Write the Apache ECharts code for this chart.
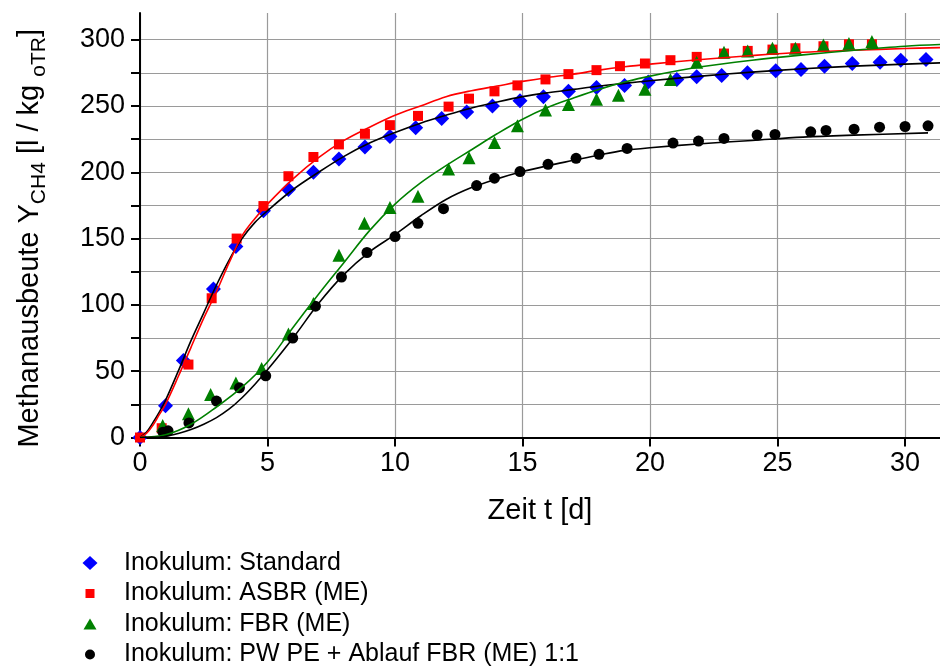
<!DOCTYPE html>
<html>
<head>
<meta charset="utf-8">
<script src="https://cdn.jsdelivr.net/npm/echarts@6/dist/echarts.min.js"></script>
<style>
html,body{margin:0;padding:0;background:#fff;}
#chart{width:940px;height:666px;}
</style>
</head>
<body>
<div id="chart"></div>
<script>
// ---------- measured data ----------
const stdX = [0, 1.0, 1.7, 2.88, 3.76, 4.84, 5.82, 6.8, 7.8, 8.82, 9.8, 10.81, 11.83, 12.81, 13.82, 14.9, 15.82, 16.8, 17.9, 19.0, 19.93, 21.05, 21.83, 22.81, 23.82, 24.93, 25.92, 26.84, 27.93, 29.02, 29.83, 30.82];
const stdY = [0, 24, 58, 112, 144, 171, 187, 200, 210, 219, 227, 233.5, 240.5, 245.5, 250, 254, 257, 261, 264, 265.5, 268, 270, 272, 273, 275, 276.5, 277.5, 280, 282, 283, 284.5, 285];

const asbrX = [0, 0.85, 1.9, 2.81, 3.79, 4.84, 5.82, 6.8, 7.8, 8.82, 9.8, 10.9, 12.1, 12.9, 13.9, 14.8, 15.9, 16.8, 17.9, 18.82, 19.8, 20.8, 21.83, 22.9, 23.83, 24.8, 25.7, 26.8, 27.8, 28.7];
const asbrY = [0, 7, 55, 105, 150, 174.5, 197, 211.5, 221, 229, 235.5, 242.5, 249.5, 255.5, 261, 265.5, 270, 274, 277, 280, 282, 284.5, 287, 289.5, 291.5, 292.5, 293.5, 295, 296.5, 296.5];

const fbrX = [0.89, 1.9, 2.77, 3.76, 4.77, 5.82, 6.8, 7.8, 8.8, 9.8, 10.9, 12.1, 12.9, 13.9, 14.8, 15.9, 16.8, 17.9, 18.76, 19.8, 20.8, 21.83, 22.9, 23.83, 24.8, 25.7, 26.8, 27.8, 28.7];
const fbrY = [9, 18, 32.5, 41, 52, 78, 101, 137.5, 161.5, 173.5, 182, 202.5, 211, 222.5, 235, 247, 251, 255, 258, 262.5, 270, 283, 290.5, 291.5, 293.5, 293.5, 296, 297, 298.5];

const pwX = [0.9, 1.1, 1.92, 3.0, 3.9, 4.93, 5.99, 6.88, 7.9, 8.9, 10.0, 10.9, 11.9, 13.2, 13.9, 14.9, 16.0, 17.1, 18.0, 19.1, 20.9, 21.9, 22.9, 24.2, 24.9, 26.3, 26.9, 28.0, 29.0, 30.0, 30.9];
const pwY = [4, 5, 11, 27.5, 37.5, 46.5, 75, 99, 121, 139.5, 151.5, 161.5, 172.5, 190, 195.5, 200.5, 206, 210.5, 213.5, 218, 222, 223.5, 225.5, 228, 228.5, 230.5, 231.5, 232.5, 234, 234.5, 235];

// fitted curves
const fitStdX = [0, 0.25, 0.5, 0.75, 1, 1.5, 2, 2.5, 3, 3.5, 4, 4.5, 5, 6, 7, 8, 9, 10, 11, 12, 13, 14, 15, 16, 17, 18, 19, 20, 22, 24, 26, 28, 30, 31.4];
const fitStdY = [0, 4, 11, 19, 28, 50, 73, 94, 115, 134, 150, 162, 171, 187, 200, 212, 222, 230, 237, 243, 248.5, 253, 257, 260, 262.5, 265, 267, 269, 272.5, 275.5, 278, 280, 281.5, 282.5];

const fitAsbrX = [0, 0.25, 0.5, 0.75, 1, 1.5, 2, 2.5, 3, 3.5, 4, 4.5, 5, 6, 7, 8, 9, 10, 11, 12, 13, 14, 15, 16, 17, 18, 19, 20, 22, 24, 26, 28, 30, 31.4];
const fitAsbrY = [0, 3, 9, 17, 25, 46, 68, 90, 110, 132, 152, 165, 176, 195, 211, 224, 234, 243, 250, 257, 261.5, 265, 268.5, 271.5, 274, 277, 279.5, 281.5, 285, 288, 290.5, 292, 293.3, 294];

const fitFbrX = [0, 1, 2, 3, 4, 5, 6, 7, 8, 9, 10, 11, 12, 13, 14, 15, 16, 17, 18, 19, 20, 22, 24, 26, 28, 30, 31.4];
const fitFbrY = [0, 2, 10, 23, 38, 57, 83, 108, 132, 156, 176, 192, 205, 217, 229, 240, 249, 256, 262.5, 268, 272.5, 279.5, 284.5, 288.5, 292, 295, 296.3];

const fitPwX = [0, 0.5, 1, 1.5, 2, 2.5, 3, 3.5, 4, 4.5, 5, 6, 7, 8, 9, 10, 11, 12, 13, 14, 15, 16, 17, 18, 19, 20, 22, 24, 26, 28, 30.9];
const fitPwY = [0, 0.1, 0.8, 3, 6, 10, 15, 21.5, 30, 40, 51, 75, 101, 123, 140, 153, 167, 179.5, 188.5, 195, 200.5, 205, 209, 213, 216.5, 218.5, 221.5, 224, 226.5, 228, 229.7];

const legendNames = ['Inokulum: Standard', 'Inokulum: ASBR (ME)', 'Inokulum: FBR (ME)', 'Inokulum: PW PE + Ablauf FBR (ME) 1:1'];
const xTicks = [0, 5, 10, 15, 20, 25, 30];
const yTicks = [0, 25, 50, 75, 100, 125, 150, 175, 200, 225, 250, 275, 300];
const yLabels = [0, 50, 100, 150, 200, 250, 300];

// ---------- chart ----------
const FONT = 'Liberation Sans, Arial, sans-serif';
const zip = (xs, ys) => xs.map((x, i) => [x, ys[i]]);

const chart = echarts.init(document.getElementById('chart'), null, { renderer: 'canvas' });

function scatter(name, xs, ys, symbol, size, color, z) {
  return { type: 'scatter', name, data: zip(xs, ys), symbol, symbolSize: size,
           itemStyle: { color, opacity: 1 }, z, silent: true };
}
function fit(name, xs, ys, color) {
  return { type: 'line', name, data: zip(xs, ys), showSymbol: false, symbol: 'none',
           smooth: 0.35, lineStyle: { color, width: 1.6 }, z: 10, silent: true };
}
// icon centred at x=90, text starting at x=124, row centred at cy
function legendItem(name, icon, cy, w, h) {
  return { data: [{ name, icon }], left: 90 - w / 2, top: cy - 11.5, orient: 'horizontal', padding: 0,
           itemWidth: w, itemHeight: h, selectedMode: false,
           textStyle: { fontFamily: FONT, fontSize: 25, color: '#000', padding: [0, 0, 0, 29 - w / 2] } };
}

chart.setOption({
  animation: false,
  backgroundColor: '#fff',
  grid: { left: 140, right: 0, top: 13, bottom: 228.5, containLabel: false },
  xAxis: {
    type: 'value', min: 0, max: 31.37,
    name: 'Zeit t [d]', nameLocation: 'middle', nameGap: 59,
    nameTextStyle: { fontFamily: FONT, fontSize: 29, color: '#000' },
    axisLine: { show: true, onZero: false, lineStyle: { color: '#000', width: 2 } },
    axisTick: { show: true, inside: false, length: 9, customValues: xTicks, lineStyle: { color: '#000', width: 2 } },
    axisLabel: { customValues: xTicks, margin: 13, fontFamily: FONT, fontSize: 27, color: '#000' },
    splitLine: { show: true, lineStyle: { color: '#9a9a9a', width: 1.2 } }
  },
  yAxis: {
    type: 'value', min: 0, max: 320,
    name: '{m|Methanausbeute Y}{s|CH4}{m| [l / kg }{s|oTR}{e|]}',
    nameLocation: 'middle', nameGap: 90, nameRotate: 90,
    nameTextStyle: {
      fontFamily: FONT, color: '#000',
      rich: {
        m: { fontFamily: FONT, fontSize: 29, lineHeight: 40, color: '#000' },
        e: { fontFamily: FONT, fontSize: 29, lineHeight: 40, color: '#000', padding: [0, 26, 0, 0] },
        s: { fontFamily: FONT, fontSize: 21, lineHeight: 21, verticalAlign: 'bottom', color: '#000' }
      }
    },
    axisLine: { show: true, onZero: false, lineStyle: { color: '#000', width: 2 } },
    axisTick: { show: true, inside: false, length: 9, customValues: yTicks, lineStyle: { color: '#000', width: 2 } },
    axisLabel: { customValues: yLabels, margin: 15, fontFamily: FONT, fontSize: 27, color: '#000' },
    splitLine: { show: true, lineStyle: { color: '#9a9a9a', width: 1.2 } }
  },
  legend: [
    legendItem(legendNames[0], 'diamond', 562, 15, 14),
    legendItem(legendNames[1], 'rect', 592.5, 9, 9),
    legendItem(legendNames[2], 'triangle', 623, 13, 11),
    legendItem(legendNames[3], 'circle', 653.5, 10, 10)
  ],
  series: [
    scatter(legendNames[0], stdX, stdY, 'diamond', 15, '#0000ff', 2),
    scatter(legendNames[1], asbrX, asbrY, 'rect', 10, '#ff0000', 3),
    scatter(legendNames[2], fbrX, fbrY, 'triangle', 13, '#008000', 4),
    scatter(legendNames[3], pwX, pwY, 'circle', 11, '#000000', 5),
    fit('Fit Standard', fitStdX, fitStdY, '#000000'),
    fit('Fit ASBR', fitAsbrX, fitAsbrY, '#ff0000'),
    fit('Fit FBR', fitFbrX, fitFbrY, '#008000'),
    fit('Fit PW', fitPwX, fitPwY, '#000000')
  ]
});
</script>
</body>
</html>
